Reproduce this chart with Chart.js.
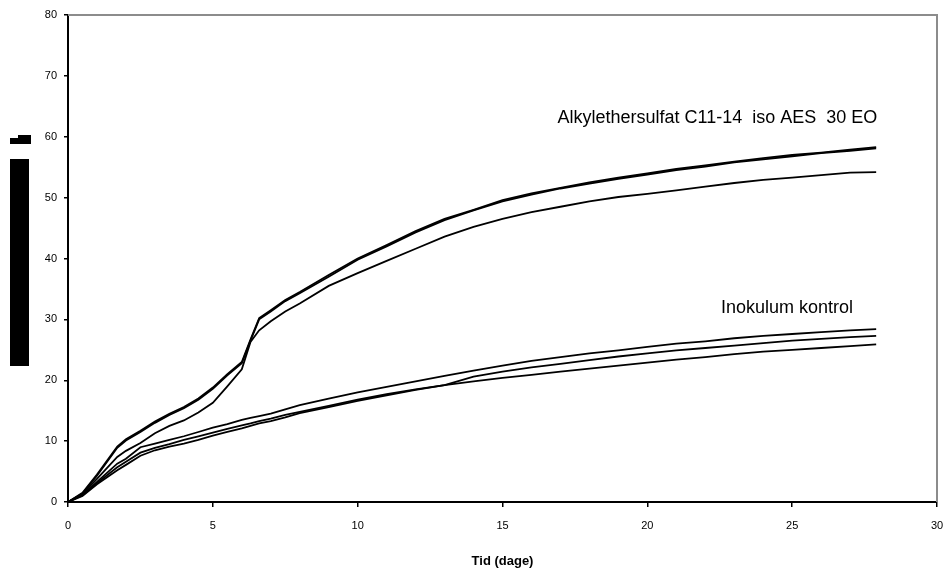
<!DOCTYPE html>
<html>
<head>
<meta charset="utf-8">
<script src="https://cdn.jsdelivr.net/npm/chart.js@4/dist/chart.umd.min.js"></script>
<style>
  html, body { margin: 0; padding: 0; background: #fff; }
  #wrap { width: 949px; height: 577px; }
</style>
</head>
<body>
<div id="wrap"><canvas id="chart"></canvas></div>
<script>
// days (x values) shared by all curves
const days = [0, 0.5, 1, 1.7, 2, 2.5, 3, 3.5, 4, 4.5, 5, 5.5, 6, 6.3, 6.6, 7, 7.5, 8,
  9, 10, 11, 12, 13, 14, 15, 16, 17, 18, 19, 20, 21, 22, 23, 24, 25, 26, 27, 27.9];

// Alkylethersulfat C11-14 iso AES 30 EO (3 replicates)
const aes1 = [0, 1.5, 4.5, 9.1, 10.3, 11.7, 13.2, 14.5, 15.6, 17.0, 18.8, 21.0, 23.0, 26.7, 30.2, 31.5, 33.2, 34.5,
  37.3, 40.0, 42.2, 44.5, 46.5, 48.0, 49.6, 50.7, 51.6, 52.5, 53.3, 54.0, 54.7, 55.3, 55.9, 56.5, 57.0, 57.4, 57.9, 58.3];
const aes2 = [0, 1.4, 4.3, 8.9, 10.1, 11.5, 13.0, 14.3, 15.4, 16.8, 18.6, 20.8, 22.8, 26.5, 30.0, 31.3, 33.0, 34.3,
  37.0, 39.8, 42.0, 44.3, 46.3, 47.9, 49.4, 50.5, 51.5, 52.3, 53.1, 53.8, 54.5, 55.1, 55.8, 56.3, 56.8, 57.3, 57.7, 58.1];
const aes3 = [0, 1.3, 3.8, 7.4, 8.4, 9.7, 11.3, 12.5, 13.4, 14.7, 16.3, 19.0, 21.8, 26.3, 28.2, 29.7, 31.3, 32.6,
  35.5, 37.6, 39.6, 41.6, 43.6, 45.2, 46.5, 47.6, 48.5, 49.4, 50.1, 50.6, 51.2, 51.8, 52.4, 52.9, 53.3, 53.7, 54.1, 54.2];

// Inokulum kontrol (3 replicates)
const ino1 = [0, 1.2, 3.3, 6.3, 7.1, 9.0, 9.6, 10.2, 10.8, 11.5, 12.2, 12.8, 13.5, 13.8, 14.1, 14.5, 15.2, 15.9,
  17.0, 18.0, 18.9, 19.8, 20.7, 21.6, 22.4, 23.2, 23.8, 24.4, 24.9, 25.5, 26.0, 26.4, 26.9, 27.3, 27.6, 27.9, 28.2, 28.4];
const ino2 = [0, 1.1, 3.1, 5.7, 6.6, 8.1, 8.9, 9.5, 10.2, 10.8, 11.4, 12.0, 12.6, 12.9, 13.3, 13.7, 14.3, 14.8,
  15.8, 16.8, 17.7, 18.5, 19.2, 20.6, 21.4, 22.1, 22.7, 23.3, 23.9, 24.4, 24.9, 25.3, 25.7, 26.1, 26.5, 26.8, 27.1, 27.3];
const ino3 = [0, 1.0, 2.9, 5.2, 6.1, 7.6, 8.5, 9.1, 9.6, 10.2, 10.9, 11.5, 12.1, 12.5, 12.9, 13.3, 13.9, 14.6,
  15.6, 16.6, 17.5, 18.4, 19.2, 19.8, 20.4, 20.9, 21.4, 21.9, 22.4, 22.9, 23.4, 23.8, 24.3, 24.7, 25.0, 25.3, 25.6, 25.9];

// text labels placed in data coordinates (left edge, vertical centre)
const noteTexts = ["Alkylethersulfat C11-14  iso AES  30 EO", "Inokulum kontrol"];
const noteX = [16.9, 22.54];
const noteY = [63.1, 31.9];

const xTitle = "Tid (dage)";

const FONT = "'Liberation Sans', Arial, sans-serif";

function toPoints(ys) {
  return days.map((d, i) => ({ x: d, y: ys[i] }));
}

function lineSet(ys) {
  return {
    data: toPoints(ys),
    borderColor: "#000",
    borderWidth: 1.8,
    pointRadius: 0,
    tension: 0,
    fill: false
  };
}

// grey frame on top and right side, plus the broken y-axis title block
const framePlugin = {
  id: "frame",
  afterDraw(chart) {
    const ctx = chart.ctx;
    const a = chart.chartArea;
    ctx.save();
    ctx.strokeStyle = "#8c8c8c";
    ctx.lineWidth = 2;
    ctx.beginPath();
    ctx.moveTo(a.left, a.top);
    ctx.lineTo(a.right, a.top);
    ctx.lineTo(a.right, a.bottom);
    ctx.stroke();

    // y axis title rendered as solid blocks in the original
    ctx.fillStyle = "#000";
    ctx.fillRect(10, 159, 19, 207);
    ctx.fillRect(10, 138, 9, 6);
    ctx.fillRect(18, 135, 13, 9);

    // notes
    const xs = chart.scales.x, ys = chart.scales.y;
    ctx.fillStyle = "#000";
    ctx.font = "18px " + FONT;
    ctx.textAlign = "left";
    ctx.textBaseline = "middle";
    noteTexts.forEach((t, i) => {
      ctx.fillText(t, xs.getPixelForValue(noteX[i]), ys.getPixelForValue(noteY[i]));
    });
    ctx.restore();
  }
};

new Chart(document.getElementById("chart"), {
  type: "line",
  data: {
    datasets: [lineSet(aes1), lineSet(aes2), lineSet(aes3), lineSet(ino1), lineSet(ino2), lineSet(ino3)]
  },
  options: {
    responsive: true,
    maintainAspectRatio: false,
    animation: false,
    layout: { padding: { left: 0, right: 12, top: 15, bottom: 0 } },
    plugins: {
      legend: { display: false },
      tooltip: { enabled: false }
    },
    scales: {
      x: {
        type: "linear",
        min: 0,
        max: 30,
        ticks: { stepSize: 5, color: "#000", padding: 12, maxRotation: 0, font: { family: FONT, size: 11 } },
        grid: { drawOnChartArea: false, drawTicks: true, tickLength: 5, color: "#000", lineWidth: 1.5 },
        border: { color: "#000", width: 2 },
        title: { display: true, text: xTitle, color: "#000", font: { family: FONT, size: 13, weight: "bold" }, padding: { top: 14, bottom: 8 } },
        afterFit(scale) {
          scale.height = 75;
          scale.paddingLeft = 0;
          scale.paddingRight = 0;
        }
      },
      y: {
        min: 0,
        max: 80,
        ticks: { stepSize: 10, color: "#000", padding: 7, font: { family: FONT, size: 11 } },
        grid: { drawOnChartArea: false, drawTicks: true, tickLength: 4, color: "#000", lineWidth: 1.5 },
        border: { color: "#000", width: 2 },
        afterFit(scale) { scale.width = 68; }
      }
    }
  },
  plugins: [framePlugin]
});
</script>
</body>
</html>
